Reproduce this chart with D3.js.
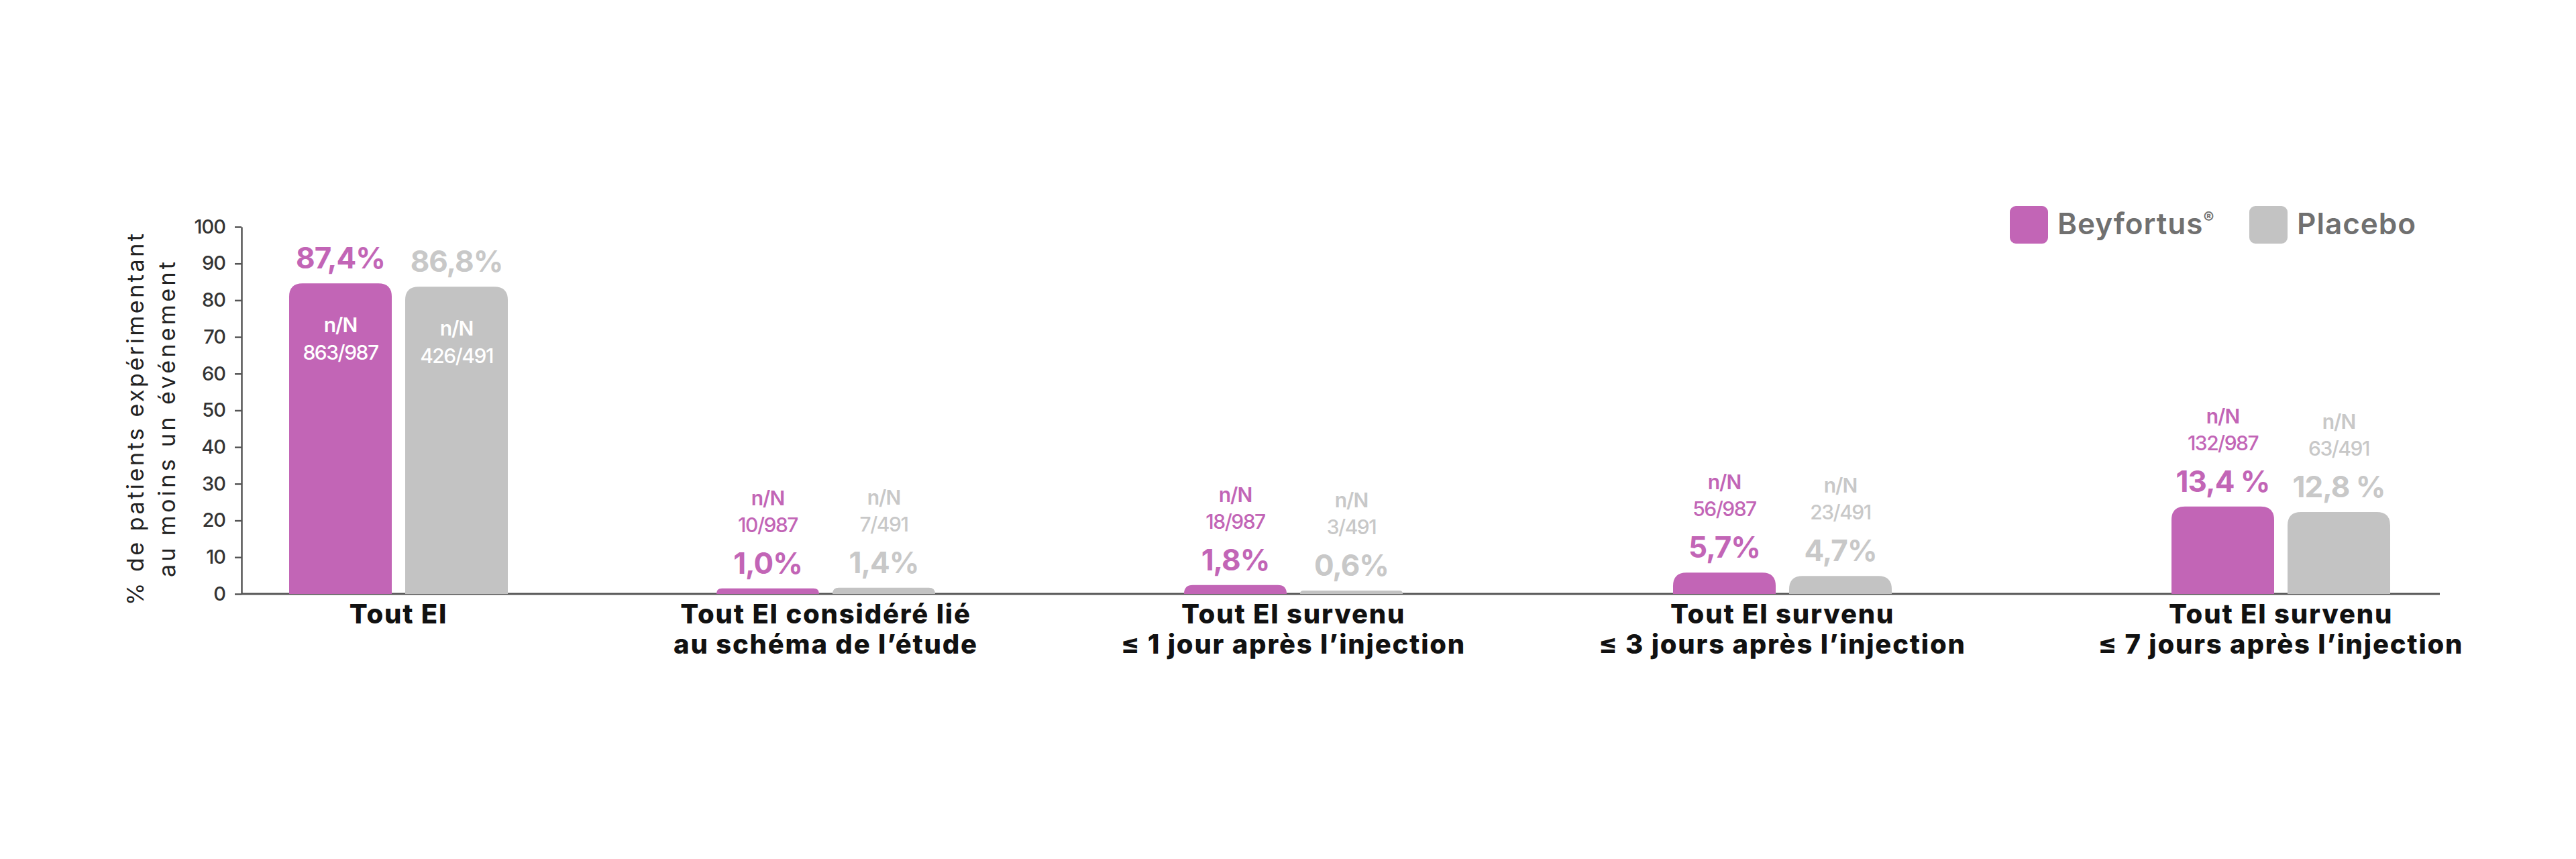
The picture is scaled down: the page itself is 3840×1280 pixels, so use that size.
<!DOCTYPE html>
<html>
<head>
<meta charset="utf-8">
<script src="https://cdn.jsdelivr.net/npm/d3@7"></script>
<style>
  body { margin: 0; background: #fff; }
  text { font-family: Inter, "Open Sans", sans-serif; }
</style>
</head>
<body>
<div id="chart"></div>
<script>
// Data
const categories = ["Tout EI", "EI lié schéma", "EI ≤ 1 jour", "EI ≤ 3 jours", "EI ≤ 7 jours"];
const categoryLines = [
  ["Tout EI"],
  ["Tout EI considéré lié", "au schéma de l’étude"],
  ["Tout EI survenu", "≤ 1 jour après l’injection"],
  ["Tout EI survenu", "≤ 3 jours après l’injection"],
  ["Tout EI survenu", "≤ 7 jours après l’injection"]
];
const series = ["Beyfortus", "Placebo"];
// bar heights as drawn in the picture (% axis)
const beyfortusBars = [84.6, 1.5, 2.4, 5.8, 23.8];
const placeboBars = [83.7, 1.7, 0.9, 4.9, 22.3];
// labels printed above the bars
const beyfortusPct = ["87,4%", "1,0%", "1,8%", "5,7%", "13,4 %"];
const placeboPct = ["86,8%", "1,4%", "0,6%", "4,7%", "12,8 %"];
const beyfortusN = ["863/987", "10/987", "18/987", "56/987", "132/987"];
const placeboN = ["426/491", "7/491", "3/491", "23/491", "63/491"];
const yTicks = [0, 10, 20, 30, 40, 50, 60, 70, 80, 90, 100];

const width = 3840, height = 1280;
const colors = { Beyfortus: "#c265b6", Placebo: "#c3c3c3" };
const textColors = { Beyfortus: "#c265b6", Placebo: "#c8c8c8" };

const svg = d3.select("#chart")
  .append("svg")
  .attr("width", width)
  .attr("height", height)
  .style("background", "#fff");

// scales
const y = d3.scaleLinear().domain([0, 100]).range([885, 338]);
const xGroup = d3.scaleOrdinal()
  .domain(categories)
  .range([594, 1231, 1928, 2657, 3400]);
const xInner = d3.scaleBand()
  .domain(series)
  .range([-163, 163])
  .paddingInner(0.1156);

const axisLeft = 360, axisRight = 3637;

// y axis
const yAxis = svg.append("g")
  .attr("transform", "translate(" + axisLeft + ",0)")
  .call(d3.axisLeft(y).tickValues(yTicks).tickSize(10).tickSizeOuter(0).tickPadding(14));
yAxis.select(".domain").attr("stroke", "#555").attr("stroke-width", 2.5);
yAxis.selectAll(".tick line").attr("stroke", "#555").attr("stroke-width", 2.5);
yAxis.selectAll(".tick text")
  .attr("fill", "#333")
  .style("font-size", "29px")
  .style("font-weight", 500)
  .style("font-family", "Inter, sans-serif")
  .style("letter-spacing", "-1px");

// baseline
svg.append("line")
  .attr("x1", axisLeft).attr("x2", axisRight)
  .attr("y1", y(0)).attr("y2", y(0))
  .attr("stroke", "#555").attr("stroke-width", 3);

// y title (two lines, rotated)
const yTitle = ["% de patients expérimentant", "au moins un événement"];
const yTitleLen = [554, 470];
svg.selectAll(".ytitle")
  .data(yTitle)
  .enter().append("text")
  .attr("class", "ytitle")
  .attr("transform", function(d, i) { return "translate(" + (214 + i * 47) + ",625) rotate(-90)"; })
  .attr("text-anchor", "middle")
  .attr("textLength", function(d, i) { return yTitleLen[i]; })
  .attr("lengthAdjust", "spacing")
  .style("font-size", "34px")
  .attr("fill", "#222")
  .text(function(d) { return d; });

// rows: one per bar
const rows = [];
categories.forEach(function(c, i) {
  rows.push({ cat: c, s: "Beyfortus", v: beyfortusBars[i], pct: beyfortusPct[i], n: beyfortusN[i], i: i });
  rows.push({ cat: c, s: "Placebo", v: placeboBars[i], pct: placeboPct[i], n: placeboN[i], i: i });
});

function topRounded(x0, y0, w, h, r) {
  r = Math.min(r, h, w / 2);
  return "M" + x0 + "," + (y0 + h) +
    "V" + (y0 + r) +
    "Q" + x0 + "," + y0 + " " + (x0 + r) + "," + y0 +
    "H" + (x0 + w - r) +
    "Q" + (x0 + w) + "," + y0 + " " + (x0 + w) + "," + (y0 + r) +
    "V" + (y0 + h) + "Z";
}

function barX(d) { return xGroup(d.cat) + xInner(d.s); }
function barMid(d) { return barX(d) + xInner.bandwidth() / 2; }

svg.append("g").selectAll("path")
  .data(rows)
  .enter().append("path")
  .attr("d", function(d) {
    return topRounded(barX(d), y(d.v), xInner.bandwidth(), y(0) - y(d.v), 20);
  })
  .attr("fill", function(d) { return colors[d.s]; });

// value labels
const labels = svg.append("g").selectAll("g")
  .data(rows)
  .enter().append("g")
  .attr("transform", function(d) { return "translate(" + barMid(d) + "," + y(d.v) + ")"; });

labels.append("text")
  .attr("text-anchor", "middle")
  .attr("y", -22)
  .style("font-size", "44px")
  .style("font-weight", 700)
  .style("letter-spacing", "-1px")
  .attr("fill", function(d) { return textColors[d.s]; })
  .text(function(d) { return d.pct; });

// n/N above the percentage for small bars, inside for the first group
labels.append("text")
  .attr("text-anchor", "middle")
  .attr("y", function(d) { return d.i === 0 ? 73 : -124; })
  .style("font-size", "30px")
  .style("font-weight", 600)
  .style("letter-spacing", "-1px")
  .attr("fill", function(d) { return d.i === 0 ? "#fff" : textColors[d.s]; })
  .text("n/N");

labels.append("text")
  .attr("text-anchor", "middle")
  .attr("y", function(d) { return d.i === 0 ? 114 : -84; })
  .style("font-size", "30px")
  .style("font-weight", 500)
  .style("letter-spacing", "-1.5px")
  .attr("fill", function(d) { return d.i === 0 ? "#fff" : textColors[d.s]; })
  .text(function(d) { return d.n; });

// category labels
const cats = svg.append("g").selectAll("text")
  .data(categories)
  .enter().append("text")
  .attr("text-anchor", "middle")
  .attr("x", function(d) { return xGroup(d); })
  .attr("y", 929)
  .style("font-size", "40px")
  .style("font-weight", 800)
  .style("letter-spacing", "1.8px")
  .attr("fill", "#111");
cats.selectAll("tspan")
  .data(function(d, i) { return categoryLines[i]; })
  .enter().append("tspan")
  .attr("x", function() { return xGroup(d3.select(this.parentNode).datum()); })
  .attr("dy", function(d, i) { return i === 0 ? 0 : 45; })
  .text(function(d) { return d; });

// legend
const legend = svg.append("g").attr("transform", "translate(2996,307)");
const legendX = [0, 357];
const item = legend.selectAll("g")
  .data(series)
  .enter().append("g")
  .attr("transform", function(d, i) { return "translate(" + legendX[i] + ",0)"; });
item.append("rect")
  .attr("width", 57).attr("height", 56)
  .attr("rx", 9)
  .attr("fill", function(d) { return colors[d]; });
const legText = item.append("text")
  .attr("x", 71)
  .attr("y", 42)
  .style("font-size", "44px")
  .style("font-weight", 600)
  .style("letter-spacing", "1px")
  .attr("fill", "#707070")
  .text(function(d) { return d; });
legText.filter(function(d) { return d === "Beyfortus"; })
  .append("tspan")
  .attr("dy", -16)
  .style("font-size", "24px")
  .style("font-weight", 700)
  .text("®");
</script>
</body>
</html>
